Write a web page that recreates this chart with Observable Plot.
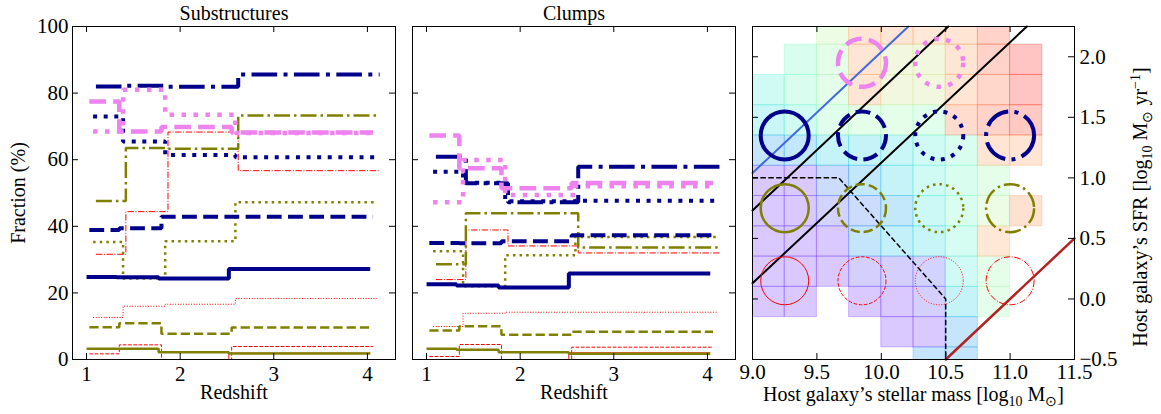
<!DOCTYPE html>
<html>
<head>
<meta charset="utf-8">
<script src="https://cdn.jsdelivr.net/npm/d3@7"></script>
<script src="https://cdn.jsdelivr.net/npm/@observablehq/plot@0.6"></script>
<style>
  body { margin: 0; background: #fff; }
  #fig { position: relative; width: 1161px; height: 414px; }
  #fig svg { position: absolute; top: 0; overflow: visible; }
</style>
</head>
<body>
<div id="fig"></div>
<script>
// ---------------------------------------------------------------
// Data
// ---------------------------------------------------------------
// Redshift bin edges shared by every step curve
const redshiftEdges = [1.0, 1.32, 1.77, 2.52, 4.03];
const lineStyles = ["solid", "dashed", "dotted", "dashdot"];
const violetStyles = ["dashed", "dotted"];

// Substructures: fraction (%) per redshift bin, one row per line style
const subNavy = [
  [24.8, 24.7, 24.3, 27.2],
  [38.9, 39.4, 42.9, 42.9],
  [73.0, 65.5, 61.4, 60.7],
  [82.0, 82.2, 81.9, 85.6]
];
const subOlive = [
  [3.2, 3.2, 2.2, 1.8],
  [9.7, 10.9, 7.7, 9.6],
  [35.3, 24.3, 35.5, 47.2],
  [47.6, 63.5, 63.3, 73.3]
];
const subRed = [
  [0.0, 0.0, 0.0, 1.9],
  [1.7, 4.4, 0.0, 3.9],
  [12.6, 16.0, 16.6, 18.3],
  [31.6, 44.4, 68.3, 56.7]
];
const subViolet = [
  [77.5, 68.5, 69.8, 68.2],
  [68.5, 81.0, 73.5, 68.0]
];

// Clumps: fraction (%) per redshift bin
const clumpNavy = [
  [22.6, 22.2, 21.6, 25.8],
  [35.0, 34.9, 35.5, 37.3],
  [56.4, 53.1, 47.5, 47.7],
  [60.9, 52.9, 47.2, 57.9]
];
const clumpOlive = [
  [3.2, 2.9, 2.2, 1.7],
  [8.7, 10.0, 7.4, 8.3],
  [32.5, 22.0, 31.3, 36.8],
  [28.6, 43.9, 43.9, 33.6]
];
const clumpRed = [
  [0.0, 0.0, 0.0, 2.0],
  [0.9, 4.5, 0.0, 3.7],
  [9.9, 13.9, 14.2, 14.2],
  [24.0, 38.9, 34.1, 32.0]
];
const clumpViolet = [
  [67.3, 57.4, 51.4, 53.0],
  [47.2, 59.9, 49.4, 52.0]
];

// Host-galaxy plane: 2D histogram of mass vs SFR (relative level, null = empty)
const massEdges = [9.0, 9.25, 9.5, 9.75, 10.0, 10.25, 10.5, 10.75, 11.0, 11.25];
const sfrEdges = [-0.65, -0.4, -0.15, 0.1, 0.35, 0.6, 0.85, 1.1, 1.35, 1.6, 1.85, 2.1, 2.35];
const cellLevel = [
  [null, null, null, null, null, 0.20, 0.20, null, null],
  [null, null, null, null, 0.05, 0.05, 0.20, null, null],
  [0.05, 0.05, null, 0.05, 0.05, 0.08, 0.30, 0.55, null],
  [0.05, 0.05, 0.05, 0.08, 0.08, 0.10, 0.38, 0.55, null],
  [0.05, 0.05, 0.05, 0.20, 0.28, 0.32, 0.42, 0.78, null],
  [0.05, 0.05, 0.10, 0.15, 0.22, 0.35, 0.45, 0.60, 0.82],
  [0.05, 0.05, 0.15, 0.22, 0.30, 0.38, 0.45, 0.55, null],
  [0.20, 0.22, 0.30, 0.30, 0.33, 0.38, 0.45, 0.80, 0.80],
  [0.33, 0.40, 0.50, 0.55, 0.55, 0.50, 0.85, 0.90, 0.95],
  [0.38, 0.45, 0.55, 0.80, 0.65, 0.65, 0.80, 0.88, 0.97],
  [null, 0.45, 0.55, 0.80, 0.65, 0.65, 0.80, 0.90, 0.97],
  [null, null, 0.60, 0.80, 0.80, 0.78, 0.80, 0.90, null]
];

// Bin markers: mass centre per line style, SFR centre per colour row
const markerMass = [9.25, 9.85, 10.45, 11.0];
const markerSfr = { violet: 1.95, navy: 1.35, olive: 0.75, red: 0.15 };

// Reference relations in the mass–SFR plane
const mainSequenceLine = [{ mass: 9.0, sfr: 1.04 }, { mass: 10.21, sfr: 2.25 }];
const upperBoundLine = [{ mass: 9.0, sfr: 0.73 }, { mass: 10.52, sfr: 2.25 }];
const lowerBoundLine = [{ mass: 9.0, sfr: 0.13 }, { mass: 11.13, sfr: 2.25 }];
const quiescentLine = [{ mass: 10.5, sfr: -0.5 }, { mass: 11.5, sfr: 0.5 }];
const selectionEdge = [
  { mass: 9.0, sfr: 1.0 }, { mass: 9.67, sfr: 1.0 },
  { mass: 10.5, sfr: 0.0 }, { mass: 10.5, sfr: -0.5 }
];

// Tick values
const redshiftTicks = [1, 2, 3, 4];
const fractionTicks = [0, 20, 40, 60, 80, 100];
const massTicks = [9.0, 9.5, 10.0, 10.5, 11.0, 11.5];
const sfrTicks = [-0.5, 0.0, 0.5, 1.0, 1.5, 2.0];

// ---------------------------------------------------------------
// Styling helpers
// ---------------------------------------------------------------
const FONT = "'Liberation Serif', 'Times New Roman', serif";
const H = 414, M_TOP = 26, M_BOTTOM = 55;
const FH = H - M_TOP - M_BOTTOM;
const TICK = 6;
const TICK_FONT = 21;
const LABEL_FONT = 20;

const palette = {
  navy: { color: "#00008b", lw: 4 },
  violet: { color: "#ee82ee", lw: 4.5 },
  olive: { color: "#808000", lw: 2.5 },
  red: { color: "#ff0000", lw: 1 }
};
// small horizontal dodge per line style so coincident steps stay visible
const styleDodge = { solid: 0, dashed: 0.03, dotted: 0.07, dashdot: 0.1 };

function dashFor(style, lw) {
  if (style === "dashed") return [3.7 * lw, 1.6 * lw].join(",");
  if (style === "dotted") return [1 * lw, 1.65 * lw].join(",");
  if (style === "dashdot") return [6.4 * lw, 1.6 * lw, 1 * lw, 1.6 * lw].join(",");
  return undefined;
}

// matplotlib-style "rainbow" colormap
function rainbow(t) {
  const r = Math.min(1, Math.abs(2 * t - 0.5));
  const g = Math.sin(Math.PI * t);
  const b = Math.cos(Math.PI * t / 2);
  return d3.rgb(255 * r, 255 * g, 255 * b).formatHex();
}

function inwardTicks(xTicks, yTicks, fw) {
  return [
    Plot.tickX(xTicks, { x: d => d, insetTop: FH - TICK, stroke: "#000" }),
    Plot.tickX(xTicks, { x: d => d, insetBottom: FH - TICK, stroke: "#000" }),
    Plot.tickY(yTicks, { y: d => d, insetRight: fw - TICK, stroke: "#000" }),
    Plot.tickY(yTicks, { y: d => d, insetLeft: fw - TICK, stroke: "#000" })
  ];
}

function label(text, opts) {
  return Plot.text([text], {
    text: d => d, fontSize: LABEL_FONT, lineAnchor: "middle", textAnchor: "middle", ...opts
  });
}

function stepLines(rows, styles, colorName) {
  const { color, lw } = palette[colorName];
  return rows.map((vals, i) => {
    const style = styles[i];
    const dx = styleDodge[style];
    const pts = vals.map((v, k) => ({ z: redshiftEdges[k] + dx, f: v }));
    pts.push({ z: redshiftEdges[redshiftEdges.length - 1] + dx, f: vals[vals.length - 1] });
    return Plot.line(pts, {
      x: "z", y: "f", curve: "step-after",
      stroke: color, strokeWidth: lw,
      strokeDasharray: dashFor(style, lw),
      strokeLinecap: "butt", strokeLinejoin: "miter"
    });
  });
}

function stepPanel({ title, navy, olive, red, violet, width, marginLeft, marginRight, showY }) {
  const fw = width - marginLeft - marginRight;
  const marks = [
    ...stepLines(red, lineStyles, "red"),
    ...stepLines(olive, lineStyles, "olive"),
    ...stepLines(navy, lineStyles, "navy"),
    ...stepLines(violet, violetStyles, "violet"),
    Plot.frame({ stroke: "#000" }),
    ...inwardTicks(redshiftTicks, fractionTicks, fw),
    Plot.axisX(redshiftTicks, { tickSize: 0, tickPadding: 7, label: null, fontSize: TICK_FONT }),
    label(title, { frameAnchor: "top", dy: -13 }),
    label("Redshift", { frameAnchor: "bottom", dy: 33 })
  ];
  if (showY) {
    marks.push(Plot.axisY(fractionTicks, { tickSize: 0, tickPadding: 4, label: null, fontSize: TICK_FONT }));
    marks.push(label("Fraction (%)", { frameAnchor: "left", dx: -54, rotate: -90 }));
  }
  return Plot.plot({
    width, height: H, marginTop: M_TOP, marginBottom: M_BOTTOM, marginLeft, marginRight,
    x: { domain: [0.85, 4.3] },
    y: { domain: [0, 100], axis: showY ? undefined : null },
    style: { fontFamily: FONT, fontSize: TICK_FONT + "px", color: "#000", background: "transparent" },
    marks
  });
}

function hostPanel({ width, marginLeft, marginRight }) {
  const fw = width - marginLeft - marginRight;
  const cells = [];
  cellLevel.forEach((row, j) => row.forEach((v, i) => {
    if (v != null) cells.push({ m0: massEdges[i], m1: massEdges[i + 1], s0: sfrEdges[j], s1: sfrEdges[j + 1], v });
  }));

  const circles = [];
  for (const colorName of ["violet", "navy", "olive", "red"]) {
    const styles = colorName === "violet" ? violetStyles : lineStyles;
    styles.forEach(style => {
      const { color, lw } = palette[colorName];
      circles.push(Plot.dot([{ mass: markerMass[lineStyles.indexOf(style)], sfr: markerSfr[colorName] }], {
        x: "mass", y: "sfr", r: 24, stroke: color, strokeWidth: lw, fill: "none",
        strokeDasharray: dashFor(style, lw), strokeLinecap: "butt"
      }));
    });
  }

  return Plot.plot({
    width, height: H, marginTop: M_TOP, marginBottom: M_BOTTOM, marginLeft, marginRight,
    x: { domain: [9.0, 11.5] },
    y: { domain: [-0.5, 2.25] },
    color: { type: "linear", domain: [0, 1], interpolate: rainbow },
    style: { fontFamily: FONT, fontSize: TICK_FONT + "px", color: "#000", background: "transparent" },
    marks: [
      Plot.rect(cells, {
        x1: "m0", x2: "m1", y1: "s0", y2: "s1",
        fill: "v", fillOpacity: 0.25, stroke: "v", strokeOpacity: 0.28, strokeWidth: 1, clip: true
      }),
      Plot.line(mainSequenceLine, { x: "mass", y: "sfr", stroke: "#4169e1", strokeWidth: 2 }),
      Plot.line(upperBoundLine, { x: "mass", y: "sfr", stroke: "#000", strokeWidth: 2 }),
      Plot.line(lowerBoundLine, { x: "mass", y: "sfr", stroke: "#000", strokeWidth: 2 }),
      Plot.line(quiescentLine, { x: "mass", y: "sfr", stroke: "#b22222", strokeWidth: 2.5 }),
      Plot.line(selectionEdge, { x: "mass", y: "sfr", stroke: "#000", strokeWidth: 1.5, strokeDasharray: "5.5,2.4", strokeLinecap: "butt" }),
      ...circles,
      Plot.frame({ stroke: "#000" }),
      ...inwardTicks(massTicks, sfrTicks, fw),
      Plot.axisX(massTicks, { tickSize: 0, tickPadding: 5, label: null, tickFormat: d3.format(".1f"), fontSize: TICK_FONT }),
      Plot.axisY(sfrTicks, { anchor: "right", tickSize: 0, tickPadding: 5, label: null, tickFormat: d3.format(".1f"), fontSize: TICK_FONT }),
      label("Host galaxy’s stellar mass [log10 M⊙]", { frameAnchor: "bottom", dy: 35 }),
      label("Host galaxy’s SFR [log10 M⊙ yr−1]", { frameAnchor: "right", dx: 66, dy: 14, rotate: -90 })
    ]
  });
}

// Replace plain label text with sub/superscript tspans
function richText(svg, plain, parts) {
  for (const t of svg.querySelectorAll("text")) {
    if (t.textContent !== plain) continue;
    while (t.firstChild) t.removeChild(t.firstChild);
    let shift = 0;
    for (const [s, kind] of parts) {
      const ts = document.createElementNS("http://www.w3.org/2000/svg", "tspan");
      const target = kind === "sub" ? 5 : kind === "sup" ? -7 : 0;
      if (target !== shift) { ts.setAttribute("dy", target - shift); shift = target; }
      if (kind) ts.setAttribute("font-size", "14px");
      ts.textContent = s;
      t.appendChild(ts);
    }
  }
}

// ---------------------------------------------------------------
// Render
// ---------------------------------------------------------------
const fig = document.getElementById("fig");

const p1 = stepPanel({ title: "Substructures", navy: subNavy, olive: subOlive, red: subRed, violet: subViolet,
  width: 400, marginLeft: 72, marginRight: 5, showY: true });
p1.style.left = "0px";
fig.appendChild(p1);

const p2 = stepPanel({ title: "Clumps", navy: clumpNavy, olive: clumpOlive, red: clumpRed, violet: clumpViolet,
  width: 340, marginLeft: 12, marginRight: 5, showY: false });
p2.style.left = "400px";
fig.appendChild(p2);

const p3 = hostPanel({ width: 421, marginLeft: 12, marginRight: 87 });
p3.style.left = "740px";
fig.appendChild(p3);

richText(p3, "Host galaxy’s stellar mass [log10 M⊙]",
  [["Host galaxy’s stellar mass [log"], ["10", "sub"], [" M"], ["⊙", "sub"], ["]"]]);
richText(p3, "Host galaxy’s SFR [log10 M⊙ yr−1]",
  [["Host galaxy’s SFR [log"], ["10", "sub"], [" M"], ["⊙", "sub"], [" yr"], ["−1", "sup"], ["]"]]);
</script>
</body>
</html>
